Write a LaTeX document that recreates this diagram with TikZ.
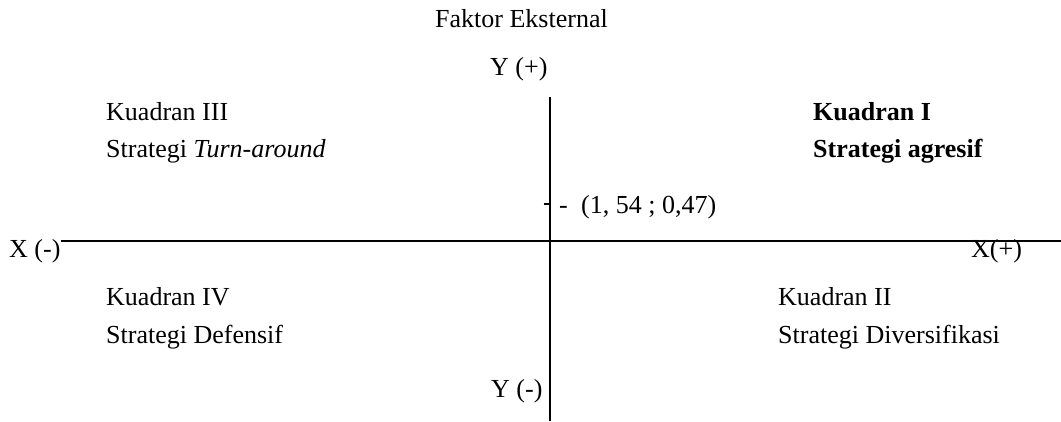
\documentclass[tikz,border=0pt]{standalone}
\usepackage{fontspec}
\setmainfont{Liberation Serif}
\usetikzlibrary{positioning}

\begin{document}
\begin{tikzpicture}[x=1pt,y=-1pt,
    lbl/.style={inner sep=0pt,anchor=base west,font=\fontsize{26}{30}\selectfont},
    axis/.style={line width=2pt}]

\useasboundingbox (0,0) rectangle (1061,421);

% Axes
\coordinate (xl) at (61,240.5);
\coordinate (xr) at (1061,240.5);
\coordinate (yt) at (549.5,97);
\coordinate (yb) at (549.5,421);
\draw[axis] (xl) -- (xr);
\draw[axis] (yt) -- (yb);

% Axis labels
\node[lbl] (title) at (435,27)  {Faktor Eksternal};
\node[lbl] (ypos)  at (490,75)  {Y (+)};
\node[lbl] (yneg)  at (491,397) {Y (-)};
\node[lbl] (xneg)  at (9,257)   {X (-)};
\node[lbl] (xpos)  at (971,257) {X(+)};

% Point (x ; y)
\coordinate (pt) at (543.5,204);
\draw[line width=1.5pt] (pt) -- (pt -| yt);
\node[lbl] (dash)  at (559,213) {-};
\node[lbl] (ptval) at (581,213) {(1, 54 ; 0,47)};

% ---- Quadrant III ----
\node[lbl] (q3) at (106,120) {Kuadran III};
\node[lbl] (s3) at (106,157) {Strategi \textit{Turn-around}};

% ---- Quadrant I ----
\node[lbl] (q1) at (813,120) {\textbf{Kuadran I}};
\node[lbl] (s1) at (813,157) {\textbf{Strategi agresif}};

% ---- Quadrant IV ----
\node[lbl] (q4) at (106,305) {Kuadran IV};
\node[lbl] (s4) at (106,343) {Strategi Defensif};

% ---- Quadrant II ----
\node[lbl] (q2) at (778,305) {Kuadran II};
\node[lbl] (s2) at (778,343) {Strategi Diversifikasi};

\end{tikzpicture}
\end{document}
